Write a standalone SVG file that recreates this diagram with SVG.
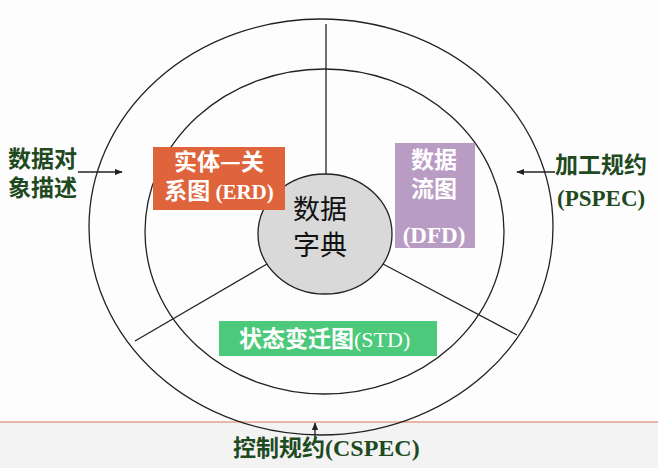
<svg xmlns="http://www.w3.org/2000/svg" width="658" height="468" viewBox="0 0 658 468">
<style>
.ring{fill:none;stroke:#222;stroke-width:1.3}
.spoke{stroke:#222;stroke-width:1.3}
.arr{stroke:#222;stroke-width:1.3;fill:none;marker-end:url(#ah)}
.lbl{font-family:"Noto Sans CJK SC","Noto Sans",sans-serif;font-weight:700;fill:#1f4a1f;font-size:23px}
.wt{fill:#fff;font-family:"Noto Sans CJK SC","Noto Sans",sans-serif;font-weight:700;font-size:23px}
text .ser, text.ser{font-family:"Liberation Serif","Times New Roman",serif;font-weight:700}
</style>
<defs>
<marker id="ah" viewBox="0 0 10 10" refX="9" refY="5" markerWidth="8" markerHeight="8" markerUnits="userSpaceOnUse" orient="auto">
<path d="M0,1 L10,5 L0,9 z" fill="#222"/>
</marker>
</defs>
<rect width="658" height="468" fill="#fdfdfd"/>
<rect y="422" width="658" height="46" fill="#f3f3f3"/>
<line x1="0" y1="422" x2="658" y2="422" stroke="#e0a08c" stroke-width="1.5"/>
<g id="outer-ring"><ellipse class="ring" cx="321" cy="227" rx="232" ry="208"/></g>
<g id="inner-ring"><ellipse class="ring" cx="324.5" cy="231.5" rx="179.5" ry="162.5"/></g>
<g id="connectors">
<line class="spoke" x1="326" y1="24" x2="326" y2="174"/>
<line class="spoke" x1="267" y1="264" x2="135" y2="341"/>
<line class="spoke" x1="383" y1="264" x2="517" y2="335"/>
<line class="arr" x1="78" y1="172" x2="122" y2="172"/>
<line class="arr" x1="555" y1="172" x2="517" y2="172"/>
<line class="arr" x1="315" y1="439" x2="315" y2="423"/>
</g>
<g id="data-dictionary">
<ellipse cx="325" cy="234" rx="67" ry="60" fill="#d9d9d9" stroke="#222" stroke-width="1.3"/>
<text x="320" y="219" font-family="Noto Sans CJK SC,sans-serif" font-size="27" text-anchor="middle" fill="#111">数据</text>
<text x="320" y="255" font-family="Noto Sans CJK SC,sans-serif" font-size="27" text-anchor="middle" fill="#111">字典</text>
</g>
<g id="erd">
<rect x="153" y="147" width="132" height="63" fill="#df643c"/>
<text class="wt" x="219" y="170" text-anchor="middle">实体—关</text>
<text class="wt" x="219" y="199" text-anchor="middle">系图 <tspan class="ser" font-size="21">(ERD)</tspan></text>
</g>
<g id="dfd">
<rect x="395" y="143" width="80" height="105" fill="#b99cc4"/>
<text class="wt" x="434" y="168" font-size="22" text-anchor="middle">数据</text>
<text class="wt" x="434" y="197" font-size="22" text-anchor="middle">流图</text>
<text class="wt ser" x="434" y="243" font-size="23" text-anchor="middle">(DFD)</text>
</g>
<g id="std">
<rect x="219" y="321" width="218" height="35" fill="#4cc97a"/>
<text class="wt" x="239" y="347">状态变迁图<tspan font-family="Liberation Serif,serif" font-weight="400" font-size="22">(STD)</tspan></text>
</g>
<g id="data-object">
<text class="lbl" x="8" y="167">数据对</text>
<text class="lbl" x="8" y="196">象描述</text>
</g>
<g id="pspec">
<text class="lbl" x="555" y="173">加工规约</text>
<text class="lbl ser" x="557" y="206">(PSPEC)</text>
</g>
<g id="cspec">
<text class="lbl" x="233" y="456">控制规约<tspan class="ser" font-size="24">(CSPEC)</tspan></text>
</g>
</svg>
